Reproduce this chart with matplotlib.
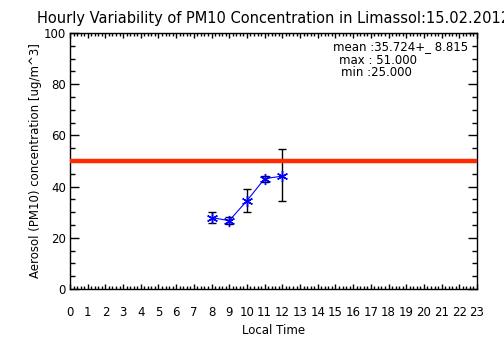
import numpy as np
import matplotlib.pyplot as plt
from matplotlib.ticker import MultipleLocator

# Hourly means and spread
hours = [8, 9, 10, 11, 12]
pm10_mean = [27.9, 26.7, 34.5, 43.1, 44.1]
err_low = [25.8, 25.4, 30.0, 41.9, 34.3]
err_high = [30.0, 28.2, 39.2, 44.3, 54.7]
limit_value = 50
hour_ticks = list(range(24))
stats_lines = ['mean :35.724+_ 8.815', 'max : 51.000', 'min :25.000']

yerr = [np.array(pm10_mean) - np.array(err_low), np.array(err_high) - np.array(pm10_mean)]

fig = plt.figure(figsize=(5.04, 3.61), dpi=100)
ax = fig.add_axes([70 / 504, 72 / 361, 407 / 504, 256 / 361])

ax.axhline(limit_value, color='#ff2a00', lw=3.2, zorder=3)
ax.errorbar(hours, pm10_mean, yerr=yerr, fmt='none', ecolor='black', elinewidth=1, capsize=3, capthick=1)
ax.plot(hours, pm10_mean, color='blue', lw=0.8, marker=(6, 2, 0), markersize=8, markeredgewidth=1)

ax.set_xlim(0, 23)
ax.set_ylim(0, 100)
ax.set_xticks(hour_ticks)
ax.xaxis.set_minor_locator(MultipleLocator(0.2))
ax.yaxis.set_major_locator(MultipleLocator(20))
ax.yaxis.set_minor_locator(MultipleLocator(5))
ax.tick_params(axis='both', which='both', direction='in', top=True, right=True, width=1)
ax.tick_params(axis='x', which='major', length=3.5, pad=12, labelsize=8.5)
ax.tick_params(axis='x', which='minor', length=2)
ax.tick_params(axis='y', which='major', length=6.5, pad=3, labelsize=8.5)
ax.tick_params(axis='y', which='minor', length=3.6)
for s in ax.spines.values():
    s.set_linewidth(1)

ax.set_xlabel('Local Time', fontsize=8.5, labelpad=4)
ax.set_ylabel('Aerosol (PM10) concentration [ug/m^3]', fontsize=8.5, labelpad=1)
fig.text(37 / 504, 1 - 18 / 361, 'Hourly Variability of PM10 Concentration in Limassol:15.02.2012',
         ha='left', va='center', fontsize=10.5)

stat_x = [333, 339, 341]
stat_y = [47, 60, 73]
for txt, sx, sy in zip(stats_lines, stat_x, stat_y):
    fig.text(sx / 504, 1 - sy / 361, txt, ha='left', va='center', fontsize=8.5)

fig.savefig('out.png', dpi=100)
